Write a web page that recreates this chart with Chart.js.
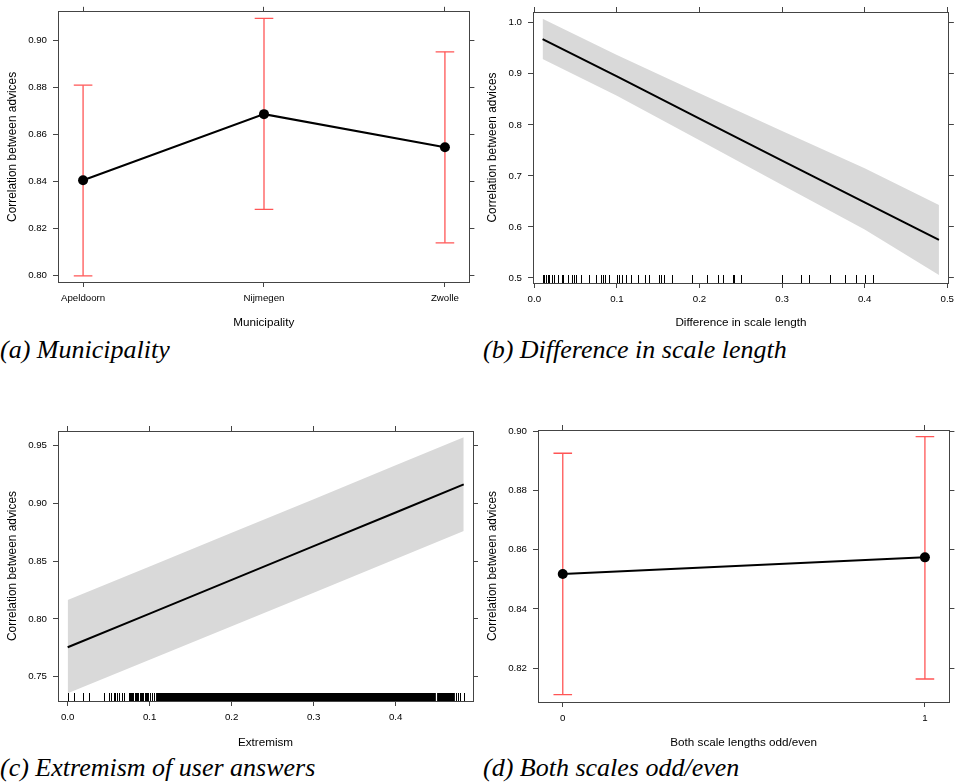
<!DOCTYPE html>
<html><head><meta charset="utf-8">
<script src="https://cdn.jsdelivr.net/npm/chart.js@4.4.1/dist/chart.umd.min.js"></script>
<style>
body{margin:0;background:#fff;width:960px;height:782px;position:relative;overflow:hidden}
canvas{position:absolute}
.cap{position:absolute;font-family:'Liberation Serif','Times New Roman',serif;font-style:italic;font-size:26px;line-height:1;color:#000;white-space:nowrap}
</style></head><body>
<canvas id="ca" width="480" height="330" style="left:0;top:0"></canvas>
<canvas id="cb" width="480" height="330" style="left:480px;top:0"></canvas>
<canvas id="cc" width="480" height="370" style="left:0;top:380px"></canvas>
<canvas id="cd" width="480" height="370" style="left:480px;top:380px"></canvas>
<div class="cap" style="left:0;top:337px">(a) Municipality</div>
<div class="cap" style="left:483px;top:337px">(b) Difference in scale length</div>
<div class="cap" style="left:0;top:755px">(c) Extremism of user answers</div>
<div class="cap" style="left:483px;top:755px">(d) Both scales odd/even</div>
<script>
// ---- data: (a) Municipality ----
const municipalities = ['Apeldoorn', 'Nijmegen', 'Zwolle'];
const municipalityFit = [0.8404, 0.8685, 0.8544];
const municipalityLower = [0.7998, 0.8280, 0.8138];
const municipalityUpper = [0.8808, 0.9092, 0.8950];
const municipalityYTicks = [0.80, 0.82, 0.84, 0.86, 0.88, 0.90];

// ---- data: (b) Difference in scale length ----
const scaleDiffX = [0.01, 0.1, 0.2, 0.3, 0.4, 0.49];
const scaleDiffFit = [0.968, 0.895, 0.812, 0.730, 0.648, 0.5745];
const scaleDiffUpper = [1.008, 0.937, 0.862, 0.788, 0.715, 0.643];
const scaleDiffLower = [0.929, 0.857, 0.770, 0.682, 0.595, 0.506];
const scaleDiffRug = [0.010, 0.012, 0.014, 0.016, 0.018, 0.021, 0.024, 0.029, 0.033, 0.035,
  0.041, 0.046, 0.048, 0.051, 0.056, 0.057, 0.066, 0.075, 0.081, 0.083, 0.085, 0.090,
  0.100, 0.103, 0.106, 0.111, 0.117, 0.125, 0.134, 0.139, 0.151, 0.154, 0.157, 0.167,
  0.191, 0.209, 0.222, 0.229, 0.240, 0.242, 0.250, 0.300, 0.323, 0.333, 0.358, 0.376,
  0.389, 0.400, 0.410];
const scaleDiffXTicks = [0.0, 0.1, 0.2, 0.3, 0.4, 0.5];
const scaleDiffYTicks = [0.5, 0.6, 0.7, 0.8, 0.9, 1.0];

// ---- data: (c) Extremism of user answers ----
const extremismX = [0.0, 0.1, 0.2, 0.3, 0.4, 0.483];
const extremismFit = [0.7755, 0.8046, 0.8338, 0.8630, 0.8922, 0.9165];
const extremismUpper = [0.8164, 0.8455, 0.8746, 0.9037, 0.9330, 0.9572];
const extremismLower = [0.7356, 0.7647, 0.7937, 0.8228, 0.8519, 0.8761];
const extremismRug = [0.000, 0.008, 0.019, 0.026, 0.044, 0.050, 0.053, 0.056, 0.058, 0.060,
  0.063, 0.066, 0.069, 0.075, 0.076, 0.077, 0.079, 0.080, 0.082, 0.083, 0.085, 0.086,
  0.088, 0.089, 0.091, 0.092, 0.094, 0.095, 0.097, 0.098, 0.101, 0.103, 0.105,
  0.474, 0.476, 0.478, 0.483];
const extremismRugDense = [[0.1078, 0.4490], [0.4505, 0.4722]];
const extremismXTicks = [0.0, 0.1, 0.2, 0.3, 0.4];
const extremismYTicks = [0.75, 0.80, 0.85, 0.90, 0.95];

// ---- data: (d) Both scales odd/even ----
const oddEvenCats = ['0', '1'];
const oddEvenFit = [0.8518, 0.8574];
const oddEvenLower = [0.8111, 0.8164];
const oddEvenUpper = [0.8925, 0.8981];
const oddEvenYTicks = [0.82, 0.84, 0.86, 0.88, 0.90];

// ---- styling ----
const FONT = "'Liberation Sans', Arial, Helvetica, sans-serif";
const TXT = '#000';
const AX = '#444';
const RED = 'rgb(255,85,85)';
const GRAY = 'rgb(217,217,217)';
const Y_TITLE = 'Correlation between advices';

function makeRug(values, dense) {
  return {
    id: 'rug',
    beforeDatasetsDraw(chart) {
      const xs = chart.scales.x, area = chart.chartArea, ctx = chart.ctx, len = 8;
      ctx.save();
      ctx.strokeStyle = '#000';
      ctx.lineWidth = 1;
      ctx.beginPath();
      for (const v of values) {
        const px = Math.round(xs.getPixelForValue(v)) + 0.5;
        ctx.moveTo(px, area.bottom);
        ctx.lineTo(px, area.bottom - len);
      }
      ctx.stroke();
      ctx.fillStyle = '#000';
      for (const [a, b] of dense) {
        const pa = xs.getPixelForValue(a), pb = xs.getPixelForValue(b);
        ctx.fillRect(pa, area.bottom - len, pb - pa, len);
      }
      ctx.restore();
    }
  };
}

function scales(L) {
  const tickFont = { family: FONT, size: 9.7 };
  const grid = { drawOnChartArea: false, drawTicks: true, tickLength: 5, color: AX, lineWidth: 1 };
  const border = { display: true, color: AX, width: 1 };
  const setX = s => { s.ticks = L.xTicks.map(v => ({ value: v })); };
  const setY = s => { s.ticks = L.yTicks.map(v => ({ value: v })); };
  return {
    x: { type: 'linear', position: 'bottom', min: L.xmin, max: L.xmax, afterBuildTicks: setX,
      afterFit: s => { s.height = L.bottom; },
      ticks: { font: tickFont, color: TXT, padding: 6, maxRotation: 0, autoSkip: false, callback: L.xFmt },
      grid, border,
      title: { display: true, text: L.xTitle, font: { family: FONT, size: 11.7 }, color: TXT, padding: { top: L.xTitlePad, bottom: 0 } } },
    y: { type: 'linear', position: 'left', min: L.ymin, max: L.ymax, afterBuildTicks: setY,
      afterFit: s => { s.width = L.left; },
      ticks: { font: tickFont, color: TXT, padding: 6, autoSkip: false, callback: L.yFmt },
      grid, border,
      title: { display: true, text: Y_TITLE, font: { family: FONT, size: 11.9 }, color: TXT, padding: { top: 6, bottom: 0 } } },
    x2: { type: 'linear', position: 'top', min: L.xmin, max: L.xmax, afterBuildTicks: setX,
      afterFit: s => { s.height = L.top; },
      ticks: { display: false }, grid, border },
    y2: { type: 'linear', position: 'right', min: L.ymin, max: L.ymax, afterBuildTicks: setY,
      afterFit: s => { s.width = L.right; },
      ticks: { display: false }, grid, border }
  };
}

function baseOptions(L) {
  return {
    responsive: false, animation: false, devicePixelRatio: 1,
    layout: { padding: 0 },
    plugins: { legend: { display: false }, tooltip: { enabled: false } },
    scales: scales(L)
  };
}

function fitLine(xs, ys, withPoints) {
  return { type: 'line', data: xs.map((x, i) => ({ x, y: ys[i] })), xAxisID: 'x', yAxisID: 'y',
    borderColor: '#000', borderWidth: 2, tension: 0, fill: false,
    pointRadius: withPoints ? 5 : 0, pointBackgroundColor: '#000', pointBorderWidth: 0, order: 0 };
}
function errorBars(n, lo, hi) {
  const out = [];
  for (let i = 0; i < n; i++) {
    out.push({ type: 'line', data: [{ x: i, y: lo[i] }, { x: i, y: hi[i] }], xAxisID: 'x', yAxisID: 'y',
      borderColor: RED, borderWidth: 1.3, fill: false, pointStyle: 'line', pointRadius: 9.3,
      pointBorderColor: RED, pointBorderWidth: 1.3, pointBackgroundColor: RED, order: 1 });
  }
  return out;
}
function band(xs, up, lo) {
  return [
    { type: 'line', data: xs.map((x, i) => ({ x, y: up[i] })), xAxisID: 'x', yAxisID: 'y',
      borderColor: 'transparent', borderWidth: 0, pointRadius: 0, tension: 0, fill: '+1', backgroundColor: GRAY, order: 2 },
    { type: 'line', data: xs.map((x, i) => ({ x, y: lo[i] })), xAxisID: 'x', yAxisID: 'y',
      borderColor: 'transparent', borderWidth: 0, pointRadius: 0, tension: 0, fill: false, order: 3 }
  ];
}
const idx = arr => arr.map((_, i) => i);

// (a)
new Chart(document.getElementById('ca'), {
  type: 'line',
  data: { datasets: [fitLine(idx(municipalities), municipalityFit, true),
    ...errorBars(municipalities.length, municipalityLower, municipalityUpper)] },
  options: baseOptions({ left: 58, right: 7, top: 11, bottom: 48,
    xmin: -0.1386, xmax: 2.1353, ymin: 0.79716, ymax: 0.91199,
    xTicks: idx(municipalities), yTicks: municipalityYTicks,
    xFmt: v => municipalities[Math.round(v)], yFmt: v => v.toFixed(2),
    xTitle: 'Municipality', xTitlePad: 3.8 })
});

// (b)
new Chart(document.getElementById('cb'), {
  type: 'line',
  data: { datasets: [fitLine(scaleDiffX, scaleDiffFit, false), ...band(scaleDiffX, scaleDiffUpper, scaleDiffLower)] },
  options: baseOptions({ left: 53, right: 7, top: 12, bottom: 47,
    xmin: -0.0016, xmax: 0.502, ymin: 0.4902, ymax: 1.021,
    xTicks: scaleDiffXTicks, yTicks: scaleDiffYTicks,
    xFmt: v => v.toFixed(1), yFmt: v => v.toFixed(1),
    xTitle: 'Difference in scale length', xTitlePad: 3.8 }),
  plugins: [makeRug(scaleDiffRug, [])]
});

// (c)
new Chart(document.getElementById('cc'), {
  type: 'line',
  data: { datasets: [fitLine(extremismX, extremismFit, false), ...band(extremismX, extremismUpper, extremismLower)] },
  options: baseOptions({ left: 58, right: 7, top: 51, bottom: 49,
    xmin: -0.0118, xmax: 0.4943, ymin: 0.729, ymax: 0.9627,
    xTicks: extremismXTicks, yTicks: extremismYTicks,
    xFmt: v => v.toFixed(1), yFmt: v => v.toFixed(2),
    xTitle: 'Extremism', xTitlePad: 4.8 }),
  plugins: [makeRug(extremismRug, extremismRugDense)]
});

// (d)
new Chart(document.getElementById('cd'), {
  type: 'line',
  data: { datasets: [fitLine(idx(oddEvenCats), oddEvenFit, true),
    ...errorBars(oddEvenCats.length, oddEvenLower, oddEvenUpper)] },
  options: baseOptions({ left: 58, right: 7, top: 50, bottom: 48,
    xmin: -0.0684, xmax: 1.0676, ymin: 0.80864, ymax: 0.90034,
    xTicks: idx(oddEvenCats), yTicks: oddEvenYTicks,
    xFmt: v => oddEvenCats[Math.round(v)], yFmt: v => v.toFixed(2),
    xTitle: 'Both scale lengths odd/even', xTitlePad: 4.8 })
});
</script>
</body></html>
